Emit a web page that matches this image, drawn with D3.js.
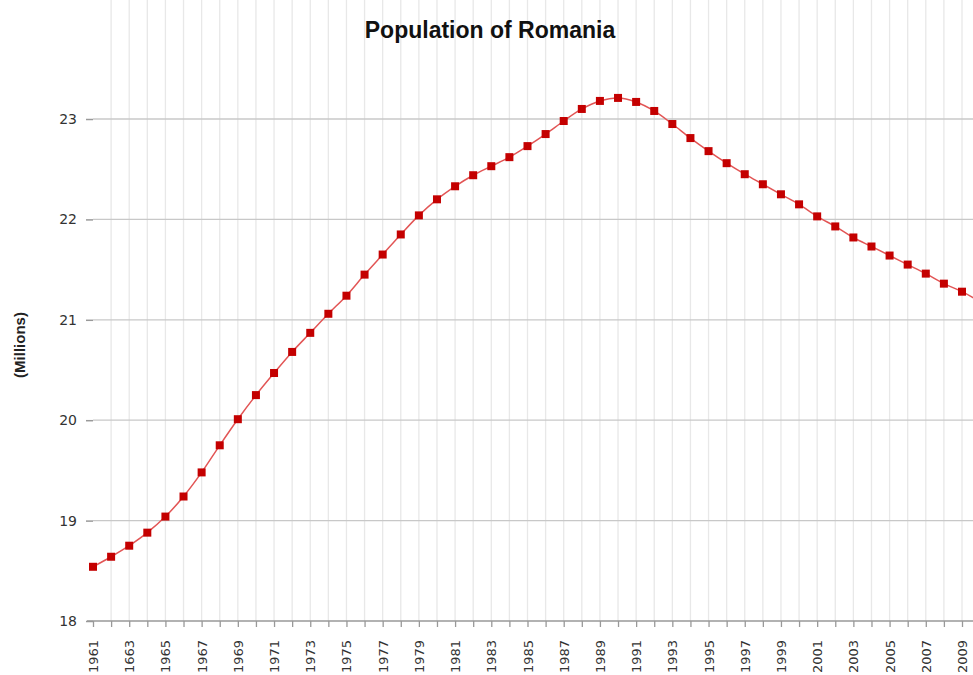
<!DOCTYPE html>
<html>
<head>
<meta charset="utf-8">
<script src="https://d3js.org/d3.v7.min.js"></script>
<style>
  body { margin: 0; background: #fff; }
  svg { display: block; }
</style>
</head>
<body>
<svg width="973" height="675"></svg>
<script>
// data (millions)
var years = d3.range(1961, 2011);
var population = [18.54, 18.64, 18.75, 18.88, 19.04, 19.24, 19.48, 19.75, 20.01, 20.25,
                  20.47, 20.68, 20.87, 21.06, 21.24, 21.45, 21.65, 21.85, 22.04, 22.20,
                  22.33, 22.44, 22.53, 22.62, 22.73, 22.85, 22.98, 23.10, 23.18, 23.21,
                  23.17, 23.08, 22.95, 22.81, 22.68, 22.56, 22.45, 22.35, 22.25, 22.15,
                  22.03, 21.93, 21.82, 21.73, 21.64, 21.55, 21.46, 21.36, 21.28, 21.18];
var yTicks = [18, 19, 20, 21, 22, 23];
// labels as printed in the source (note the "1663")
var xLabels = ["1961", "1663", "1965", "1967", "1969", "1971", "1973", "1975", "1977", "1979",
               "1981", "1983", "1985", "1987", "1989", "1991", "1993", "1995", "1997", "1999",
               "2001", "2003", "2005", "2007", "2009"];

var data = years.map(function(y, i) { return { year: y, value: population[i] }; });

var svg = d3.select("svg"),
    left = 93,
    top = 68,
    bottom = 621,
    right = 973;

var x = d3.scaleLinear().domain([1961, 2009]).range([left, 962]);
var y = d3.scaleLinear().domain([18, 23]).range([bottom, 119]);

// vertical grid, one per year
svg.append("g")
   .selectAll("line")
   .data(years.filter(function(d) { return d > 1961; }))
   .enter()
   .append("line")
   .attr("x1", function(d) { return x(d); })
   .attr("x2", function(d) { return x(d); })
   .attr("y1", top)
   .attr("y2", bottom)
   .attr("stroke", "#e8e8e8")
   .attr("stroke-width", 1.3);

// horizontal grid
svg.append("g")
   .selectAll("line")
   .data(yTicks.filter(function(d) { return d > 18; }))
   .enter()
   .append("line")
   .attr("x1", left)
   .attr("x2", right)
   .attr("y1", function(d) { return y(d); })
   .attr("y2", function(d) { return y(d); })
   .attr("stroke", "#c8c8c8")
   .attr("stroke-width", 1.3);

// y axis
var yAxis = svg.append("g")
   .attr("transform", "translate(" + left + ",0)")
   .call(d3.axisLeft(y).tickValues(yTicks).tickSize(7).tickPadding(9).tickFormat(d3.format("d")));
yAxis.select(".domain").attr("stroke", "#999").attr("stroke-width", 1.5)
     .attr("d", "M0," + top + "V" + bottom);
yAxis.selectAll(".tick line").attr("stroke", "#999").attr("stroke-width", 1.5);
yAxis.selectAll("text")
     .attr("font-family", "DejaVu Sans, Verdana, sans-serif")
     .attr("font-size", "14px")
     .attr("fill", "#333");

// x axis
var xAxis = svg.append("g")
   .attr("transform", "translate(0," + bottom + ")")
   .call(d3.axisBottom(x).tickValues(years).tickSize(6).tickFormat(""));
xAxis.select(".domain").attr("stroke", "#999").attr("stroke-width", 1.5)
     .attr("d", "M" + (left - 6) + ",0H" + right);
xAxis.selectAll(".tick line").attr("stroke", "#999").attr("stroke-width", 1.3);

svg.append("g")
   .selectAll("text")
   .data(xLabels)
   .enter()
   .append("text")
   .attr("transform", function(d, i) {
       return "translate(" + (x(1961 + i * 2) + 5) + "," + 640 + ") rotate(-90)";
   })
   .attr("text-anchor", "end")
   .attr("font-family", "DejaVu Sans, Verdana, sans-serif")
   .attr("font-size", "13px")
   .attr("fill", "#333")
   .text(function(d) { return d; });

// line + markers
var line = d3.line()
   .x(function(d) { return x(d.year); })
   .y(function(d) { return y(d.value); })
   .curve(d3.curveMonotoneX);

svg.append("path")
   .datum(data)
   .attr("d", line)
   .attr("fill", "none")
   .attr("stroke", "#e25555")
   .attr("stroke-width", 1.5);

svg.append("g")
   .selectAll("rect")
   .data(data)
   .enter()
   .append("rect")
   .attr("x", function(d) { return x(d.year) - 4; })
   .attr("y", function(d) { return y(d.value) - 4; })
   .attr("width", 8)
   .attr("height", 8)
   .attr("fill", "#c40000");

// titles
svg.append("text")
   .attr("x", 490)
   .attr("y", 38)
   .attr("text-anchor", "middle")
   .attr("font-family", "Liberation Sans Narrow, Arial Narrow, sans-serif")
   .attr("font-weight", "bold")
   .attr("font-size", "23px")
   .attr("fill", "#111")
   .text("Population of Romania");

svg.append("text")
   .attr("transform", "translate(25,345) rotate(-90)")
   .attr("text-anchor", "middle")
   .attr("font-family", "Liberation Sans, Arial, sans-serif")
   .attr("font-weight", "bold")
   .attr("font-size", "15px")
   .attr("fill", "#222")
   .text("(Millions)");
</script>
</body>
</html>
